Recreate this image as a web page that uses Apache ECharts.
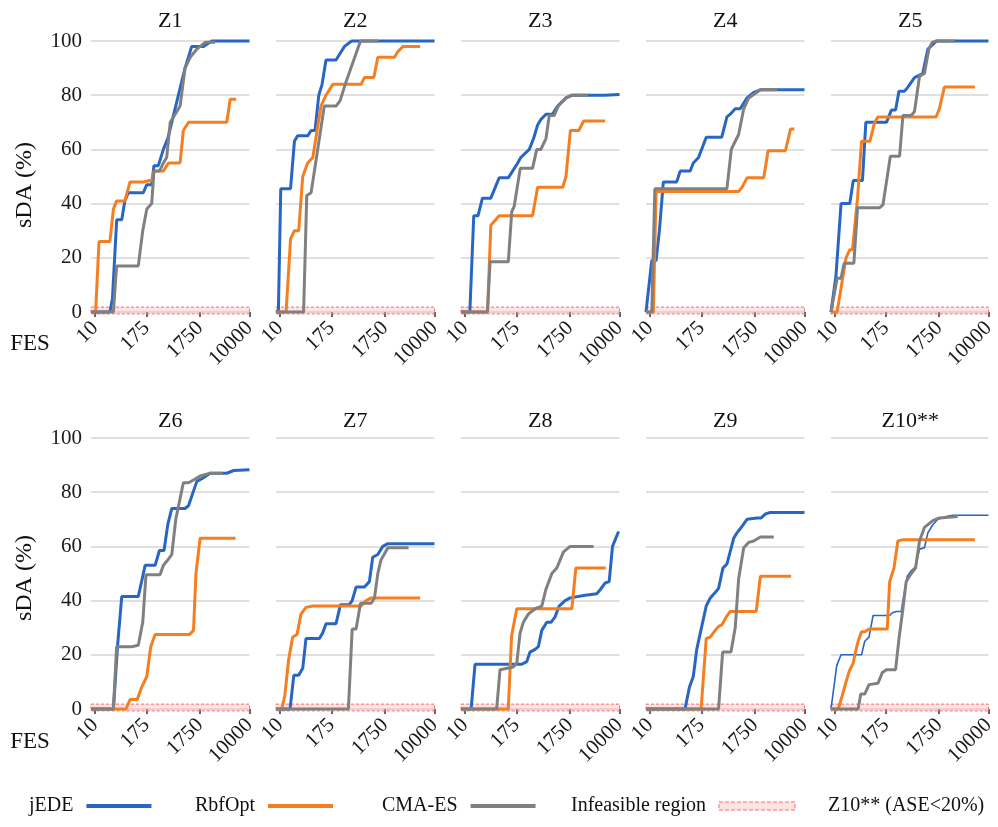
<!DOCTYPE html>
<html>
<head>
<meta charset="utf-8">
<script src="https://cdn.jsdelivr.net/npm/echarts@6/dist/echarts.min.js"></script>
<style>
html,body{margin:0;padding:0;background:#fff;}
#chart{width:998px;height:827px;}
</style>
</head>
<body>
<div id="chart"></div>
<script>
// ---------- data ----------
const PANELS = ['Z1','Z2','Z3','Z4','Z5','Z6','Z7','Z8','Z9','Z10**'];
const FES_TICKS = [10, 175, 1750, 10000];
const FES_RANGE = [7.7, 10000];
const SDA_TICKS = [0, 20, 40, 60, 80, 100];
const INFEASIBLE_Y = [-0.7, 1.8];
const ALGORITHMS = ['jEDE', 'RbfOpt', 'CMA-ES'];
const NOTE = 'Z10** (ASE<20%)';

const jEDE_Z1 = [[7.7,0],[25,0],[29,5],[37,34],[49,34],[58,41],[70,44],[150,44],[178,47],[225,47],[250,54],[306,54],[385,60],[467,64],[556,70],[737,80],[970,90],[1268,98],[2003,98],[2735,100],[10000,100]];
const RbfOpt_Z1 = [[7.7,0],[10.4,0],[12.9,26],[25,26],[30.7,38],[36.8,41],[58,41],[76.5,48],[150,48],[208,48.5],[236,49],[250,52],[385,52],[480,55],[791,55],[905,67],[1115,70],[4670,70],[5254,78.5],[6450,78.5]];
const CMAES_Z1 = [[7.7,0],[30.7,0],[36.8,17],[117,17],[146,30],[178,38],[225,40],[250,52],[322,52],[385,55],[445,57],[520,70],[690,74],[791,76],[970,90],[1195,94],[1550,97],[2130,99.5],[3090,99.5]];

const jEDE_Z2 = [[7.7,0],[9,0],[10.5,45.5],[19.3,45.5],[24.3,63],[29.3,65],[51.5,65],[62,67],[76.5,67],[93,80],[110,84],[134,93],[218,93],[255,95],[322,98],[445,100],[10000,100]];
const RbfOpt_Z2 = [[7.7,0],[14.7,0],[19.3,27],[24.3,30],[31.2,30],[39.2,50],[51.5,55],[68,57],[104,76],[134,80],[187,84],[669,84],[770,86.5],[1130,86.5],[1325,94],[2510,94],[2830,96],[3400,98],[6230,98]];
const CMAES_Z2 = [[7.7,0],[41.2,0],[49,43],[62,44],[88,60],[123,76],[218,76],[264,78],[347,85],[652,100],[1360,100]];

const jEDE_Z3 = [[7.7,0],[13.6,0],[17.3,35.5],[22.3,35.5],[29,42],[46.6,42],[73,49.5],[117,49.5],[186,55],[215,57],[320,60],[388,64],[464,69],[535,71],[665,73],[877,73],[1080,76],[1500,79],[1945,80],[6100,80],[10000,80.3]];
const RbfOpt_Z3 = [[7.7,0],[38.7,0],[46.6,32],[73,35.5],[370,35.5],[464,46],[1320,46],[1500,50],[1780,67],[2440,67],[2930,70.5],[6230,70.5]];
const CMAES_Z3 = [[7.7,0],[38.7,0],[44.7,18.5],[117,18.5],[139,37],[157,39],[210,53],[370,53],[447,60],[535,60],[665,64],[765,72.5],[940,72.5],[1105,76],[1500,79],[1820,80],[3390,80]];

const jEDE_Z4 = [[7.7,0],[11.2,19],[14.7,19],[18,30],[22.8,48],[49,48],[59,52],[100,52],[117,55],[152,57],[220,64.5],[447,64.5],[560,72],[645,73],[795,75],[975,75],[1285,79],[1670,81],[2150,82],[10000,82]];
const RbfOpt_Z4 = [[7.7,0],[12.4,0],[14.7,44.5],[915,44.5],[1050,46],[1285,49.5],[2440,49.5],[2860,59.5],[5300,59.5],[6300,67.5],[7150,67.5]];
const CMAES_Z4 = [[7.7,0],[11.2,0],[13.6,45.5],[560,45.5],[675,60],[795,63],[915,65.5],[1125,75],[1375,79],[2150,82],[3970,82]];

const jEDE_Z5 = [[7.7,0],[10.6,13],[14.7,40],[25,40],[30.7,48.5],[51.5,48.5],[62,70],[178,70],[199,72],[226,74.5],[275,74.5],[322,81.5],[415,81.5],[480,83],[640,86.5],[905,88],[1115,97],[1585,100],[10000,100]];
const RbfOpt_Z5 = [[7.7,0],[11.5,0],[15.2,10],[20,20],[25,23],[29.3,23],[39.2,42],[49,63],[76.5,63],[99,70],[117,72],[1550,72],[1760,75],[2130,83],[6360,83]];
const CMAES_Z5 = [[7.7,0],[11.5,12.5],[14.7,12.5],[17.8,18],[31.8,18],[39.2,38.5],[128,38.5],[150,39.5],[193,52],[215,57.5],[331,57.5],[385,72.5],[556,72.5],[640,74],[791,87],[970,88],[1160,97],[1325,99.5],[1550,100],[3160,100]];

const jEDE_Z6 = [[7.7,0],[30.7,0],[38.7,23],[49,41.5],[117,41.5],[138,47],[164,53],[264,53],[322,58.5],[396,58.5],[467,68],[556,74],[970,74],[1115,75],[1550,84],[1880,85],[2575,87],[4670,87],[5930,88],[10000,88.3]];
const RbfOpt_Z6 = [[7.7,0],[62,0],[76.5,3.5],[111,3.5],[138,8],[178,12],[215,23],[264,27.5],[1160,27.5],[1360,29],[1500,50],[1760,63],[6300,63]];
const CMAES_Z6 = [[7.7,0],[30.7,0],[36.8,23],[84,23],[117,23.5],[146,32],[171,49.5],[331,49.5],[385,53],[445,54.5],[556,57],[660,70],[905,83.5],[1115,83.5],[1360,84.5],[1760,86],[2575,87],[4050,87]];

const jEDE_Z7 = [[7.7,0],[18.7,0],[23.5,12.5],[31.2,12.5],[39.2,15],[47,26],[96,26],[113,28],[134,31.5],[218,31.5],[268,38.5],[400,38.5],[455,40],[540,45],[770,45],[945,47],[1080,56],[1325,57],[1610,60],[1955,61],[10000,61]];
const RbfOpt_Z7 = [[7.7,0],[11.2,0],[13.6,5],[17.1,18],[21.8,26.5],[28.3,27.5],[35.5,35],[47,37.5],[68,38],[669,38],[822,40],[1015,41],[6230,41]];
const CMAES_Z7 = [[7.7,0],[385,0],[455,29.5],[540,29.5],[652,39],[1015,39],[1160,41],[1325,50],[1500,55],[1955,59.5],[4170,59.5]];

const jEDE_Z8 = [[7.7,0],[14.7,0],[18.7,16.5],[226,16.5],[285,17.5],[331,21],[415,22],[480,23],[556,29],[690,32],[822,32],[970,34],[1145,38],[1450,40],[1760,41],[3090,42],[4670,42.5],[5254,44],[6230,46.5],[7120,47],[7960,60],[9700,65.5]];
const RbfOpt_Z8 = [[7.7,0],[117,0],[138,27],[178,37],[1880,37],[2190,52],[6360,52]];
const CMAES_Z8 = [[7.7,0],[64,0],[76.5,14.5],[150,15.5],[178,17],[208,28],[243,32],[306,35],[415,37],[556,38],[660,44],[850,50],[1040,52],[1360,58],[1760,60],[4170,60]];

const jEDE_Z9 = [[7.7,0],[76.5,0],[96,8],[117,12],[139,22],[220,38],[266,41],[333,43],[388,44.5],[470,52],[560,53.5],[745,63],[855,65],[975,66.5],[1285,70],[1905,70.5],[2215,70.5],[2610,72],[3100,72.5],[10000,72.5]];
const RbfOpt_Z9 = [[7.7,0],[172,0],[220,26],[266,26.5],[333,29],[388,30.5],[447,31],[545,34],[645,36],[1840,36],[2150,49],[6420,49]];
const CMAES_Z9 = [[7.7,0],[388,0],[464,21],[665,21],[795,30],[915,48],[1125,59.5],[1375,61.5],[1670,62],[2150,63.5],[3520,63.5]];

const jEDE_Z10 = [[7.7,0],[11.2,16],[14.7,20],[49,20],[58.4,25],[73.5,26.5],[91,34.5],[208,34.5],[236,35.5],[285,36],[357,36],[385,40],[467,49],[556,51],[669,52.5],[791,59],[970,59.5],[1115,65],[1360,68],[1660,70],[2275,71],[2915,71.5],[10000,71.5]];
const RbfOpt_Z10 = [[7.7,0],[12.4,0],[15.9,5],[20,10],[24.3,14],[30.7,17],[33.6,20],[40.5,25],[49,28.5],[58.4,28.5],[73.5,29.5],[185,29.5],[208,47],[255,52],[306,62],[385,62.5],[6360,62.5]];
const CMAES_Z10 = [[7.7,0],[40.5,0],[47,5.5],[58.4,5.5],[73.5,9],[117,9.5],[146,13.5],[178,14.5],[275,14.5],[322,26],[385,37],[445,47],[556,50],[669,52],[791,62],[970,67],[1360,69.5],[1760,70.5],[3480,71]];

const JEDE_ALL = [jEDE_Z1,jEDE_Z2,jEDE_Z3,jEDE_Z4,jEDE_Z5,jEDE_Z6,jEDE_Z7,jEDE_Z8,jEDE_Z9,jEDE_Z10];
const RBF_ALL = [RbfOpt_Z1,RbfOpt_Z2,RbfOpt_Z3,RbfOpt_Z4,RbfOpt_Z5,RbfOpt_Z6,RbfOpt_Z7,RbfOpt_Z8,RbfOpt_Z9,RbfOpt_Z10];
const CMA_ALL = [CMAES_Z1,CMAES_Z2,CMAES_Z3,CMAES_Z4,CMAES_Z5,CMAES_Z6,CMAES_Z7,CMAES_Z8,CMAES_Z9,CMAES_Z10];

// ---------- style / layout ----------
const FONT = "'Liberation Serif','Times New Roman',serif";
const COLORS = {jEDE:'#2766c3', RbfOpt:'#f57f20', 'CMA-ES':'#808080'};
const RECT_FILL = 'rgba(255,185,185,0.4)';
const RECT_STROKE = '#f07070';
const LEFTS = [91, 276, 461, 646, 831];
const TOPS = [41, 438];
const GW = 158.5, GH = 271;

// x scale transform (axis is compressed like FES^0.1)
const T = v => Math.pow(v, 0.1);

const grids = [], xAxes = [], yAxes = [], series = [], graphics = [];
PANELS.forEach((name, i) => {
  const col = i % 5, row = Math.floor(i / 5);
  grids.push({left: LEFTS[col], top: TOPS[row], width: GW, height: GH, containLabel: false});
  const tickVals = FES_TICKS.map(T);
  xAxes.push({
    type: 'value', gridIndex: i, min: T(FES_RANGE[0]), max: T(FES_RANGE[1]),
    axisLine: {show: false},
    axisTick: {show: true, customValues: tickVals, length: 5, lineStyle: {color: '#333', width: 1.5}},
    axisLabel: {
      show: true, customValues: tickVals, rotate: 45, margin: 13,
      fontFamily: FONT, fontSize: 21, color: '#1a1a1a',
      formatter: v => { const k = tickVals.findIndex(t => Math.abs(t - v) < 1e-6); return k >= 0 ? String(FES_TICKS[k]) : ''; }
    },
    splitLine: {show: false}
  });
  yAxes.push({
    type: 'value', gridIndex: i, min: SDA_TICKS[0], max: SDA_TICKS[SDA_TICKS.length-1], interval: 20,
    axisLine: {show: false}, axisTick: {show: false},
    axisLabel: {show: col === 0, fontFamily: FONT, fontSize: 21, color: '#1a1a1a', margin: 9},
    splitLine: {show: true, lineStyle: {color: '#d6d6d6', width: 1.5}}
  });
  series.push({
    name: 'Infeasible region', type: 'custom', xAxisIndex: i, yAxisIndex: i, clip: false, z: 1,
    data: [[T(FES_RANGE[0]), T(FES_RANGE[1]), INFEASIBLE_Y[0], INFEASIBLE_Y[1]]],
    encode: {x: [0, 1], y: [2, 3]},
    itemStyle: {color: RECT_FILL},
    silent: true,
    renderItem: (params, api) => {
      const p0 = api.coord([api.value(0), api.value(3)]);
      const p1 = api.coord([api.value(1), api.value(2)]);
      return {type: 'rect', shape: {x: p0[0], y: p0[1], width: p1[0] - p0[0], height: p1[1] - p0[1]},
        style: {fill: RECT_FILL, stroke: RECT_STROKE, lineWidth: 1, lineDash: [3, 2]}};
    }
  });
  const sets = [JEDE_ALL[i], RBF_ALL[i], CMA_ALL[i]];
  ALGORITHMS.forEach((alg, k) => {
    series.push({
      name: alg, type: 'line', xAxisIndex: i, yAxisIndex: i, clip: false, z: 3,
      showSymbol: false, symbol: 'none', animation: false,
      lineStyle: {color: COLORS[alg], width: (name === 'Z10**' && alg === 'jEDE') ? 1.6 : 3},
      itemStyle: {color: COLORS[alg]},
      data: sets[k].map(p => [T(p[0]), p[1]])
    });
  });
  graphics.push({type: 'text', x: LEFTS[col] + GW / 2, y: row === 0 ? 21 : 421,
    style: {text: name, align: 'center', verticalAlign: 'middle', fontFamily: FONT, fontSize: 22, fill: '#111'}});
});

[[185, 344], [578, 742]].forEach(([ySda, yFes]) => {
  graphics.push({type: 'text', x: 25, y: ySda, rotation: Math.PI / 2,
    style: {text: 'sDA (%)', align: 'center', verticalAlign: 'middle', fontFamily: FONT, fontSize: 24, fill: '#111'}});
  graphics.push({type: 'text', x: 30, y: yFes,
    style: {text: 'FES', align: 'center', verticalAlign: 'middle', fontFamily: FONT, fontSize: 23, fill: '#111'}});
});
graphics.push({type: 'text', x: 828, y: 806,
  style: {text: NOTE, align: 'left', verticalAlign: 'middle', fontFamily: FONT, fontSize: 20, fill: '#111'}});

const legendSpec = [
  {name: 'jEDE', left: 29, icon: 'rect', w: 65, h: 4, itemStyle: {color: COLORS.jEDE}},
  {name: 'RbfOpt', left: 195, icon: 'rect', w: 65, h: 4, itemStyle: {color: COLORS.RbfOpt}},
  {name: 'CMA-ES', left: 382, icon: 'rect', w: 65, h: 4, itemStyle: {color: COLORS['CMA-ES']}},
  {name: 'Infeasible region', left: 571, icon: 'rect', w: 76, h: 8, itemStyle: {color: RECT_FILL, borderColor: RECT_STROKE, borderWidth: 1, borderType: 'dashed'}}
];
const legends = legendSpec.map(s => ({
  left: s.left, top: 796, orient: 'horizontal', align: 'right', padding: 0,
  itemWidth: s.w, itemHeight: s.h, selectedMode: false,
  textStyle: {fontFamily: FONT, fontSize: 20, color: '#111', padding: [0, 8, 0, 0]},
  data: [{name: s.name, icon: s.icon, itemStyle: s.itemStyle}]
}));

const chart = echarts.init(document.getElementById('chart'), null, {renderer: 'canvas'});
chart.setOption({
  backgroundColor: '#fff',
  animation: false,
  grid: grids, xAxis: xAxes, yAxis: yAxes,
  legend: legends,
  graphic: graphics,
  series: series
});
</script>
</body>
</html>
